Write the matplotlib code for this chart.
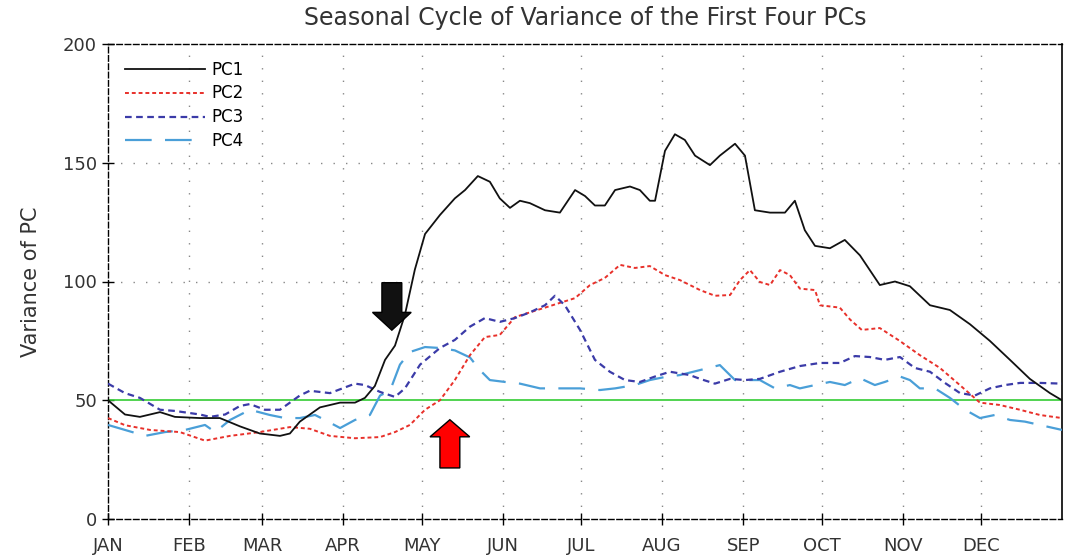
import matplotlib
matplotlib.use("Agg")
import matplotlib.pyplot as plt
from matplotlib.patches import FancyArrow

month_labels = ["JAN", "FEB", "MAR", "APR", "MAY", "JUN", "JUL", "AUG", "SEP", "OCT", "NOV", "DEC"]
month_starts = [0, 31, 59, 90, 120, 151, 181, 212, 243, 273, 304, 334]
y_ticks = [0, 50, 100, 150, 200]

pc1_day = [0, 6.5, 12.2, 19.9, 25.6, 35.2, 42.8, 50.5, 58.1, 65.8, 69.6, 73.4, 81.1, 88.8, 94.5,
           98.3, 102.1, 106, 109.8, 113.6, 117.4, 121.3, 127, 132.7, 136.6, 141.5, 146.1, 149.9,
           153.8, 157.6, 161.4, 167.2, 172.9, 178.7, 182.5, 186.3, 190.1, 194, 199.7, 203.5,
           207.3, 209.3, 213.1, 216.9, 220.7, 224.6, 230.3, 234.1, 239.9, 243.7, 247.5, 253.3,
           259, 262.8, 266.6, 270.5, 276.2, 281.9, 287.7, 295.3, 301.1, 306.8, 314.5, 322.1,
           329.8, 337.4, 345.1, 352.7, 360.4, 365]
pc1_val = [50, 44, 43, 45, 43, 42.5, 42.5, 39, 36, 35, 36, 41, 47, 49, 49,
           51, 56, 67, 73, 86, 105, 120, 128, 135, 138.5, 144.4, 142, 135,
           131, 134, 133, 130, 129, 138.5, 136, 132, 132, 138.5, 140, 138.5,
           134, 134, 155, 162, 159.6, 153, 149, 153, 158, 153, 130, 129,
           129, 134, 121.6, 115, 114, 117.5, 111, 98.5, 100, 98, 90, 88,
           82, 75, 67, 59, 53, 50]

pc2_day = [0, 6.5, 16.1, 27.5, 37.1, 46.7, 58.1, 69.6, 77.2, 84.9, 94.5, 104.1, 109.8, 115.5,
           121.3, 127, 132.7, 138.5, 144.2, 149.9, 155.7, 161.4, 167.2, 172.9, 178.7, 184.4,
           190.1, 195.9, 201.6, 207.3, 213.1, 218.8, 226.5, 232.2, 238, 241.8, 245.6, 249.4,
           253.3, 257.1, 260.9, 264.7, 270.5, 272.4, 280, 283.9, 288.4, 295.3, 302.9, 310.6,
           318.3, 325.9, 333.6, 341.2, 348.9, 356.5, 365]
pc2_val = [42.5, 39.5, 37.5, 36.6, 33, 35, 36.6, 38.7, 38, 35, 34, 34.5, 36.6, 39.6,
           46, 50, 58.5, 69, 76.6, 77.5, 85, 87, 89, 91, 93, 98.5,
           101.5, 107, 105.7, 106.5, 102.7, 100.6, 96.4, 94, 94.3, 100.6, 104.8, 99.8,
           98.5, 104.8, 102.7, 97, 96.4, 90, 89, 84, 79.6, 80.4, 75, 69,
           63.6, 56.4, 49, 48, 46, 43.8, 42.5]

pc3_day = [0, 6.5, 12.2, 19.9, 25.6, 35.2, 39, 44.8, 50.5, 54.3, 60, 65.8, 73.4, 77.2, 84.9,
           94.5, 98.3, 104.1, 109.8, 113.6, 119.4, 127, 132.7, 138.5, 144.2, 149.9, 155.7,
           161.4, 167.2, 171, 174.8, 180.6, 186.3, 192, 197.8, 203.5, 209.3, 215, 222.6,
           226.5, 232.2, 238, 243.7, 249.4, 257.1, 264.7, 272.4, 280, 285.8, 291.5, 297.2,
           303, 308.7, 314.5, 320.2, 326, 331.7, 337.4, 343.2, 349, 356.5, 365]
pc3_val = [57, 53, 51, 46, 45.5, 44, 43, 44, 47.6, 48.4, 46, 46, 52, 54, 53,
           57, 56.4, 53.5, 51.4, 55, 65, 72, 75.4, 81, 84.6, 83, 84.6,
           87, 90, 94, 90, 79.6, 67, 62, 58.5, 57.7, 60, 62, 60.6,
           59, 57, 59, 58.5, 59, 62, 64.4, 65.7, 65.7, 68.6, 68.2, 67,
           68.2, 63.6, 62, 57.3, 53, 52, 55, 56.4, 57.3, 57.3, 57]

pc4_day = [0, 6.5, 14.2, 21.8, 29.5, 37.1, 41, 46.7, 54.3, 61.9, 67.7, 73.4, 79.2, 83, 88.8,
           94.5, 100.2, 104.1, 107.9, 111.7, 115.5, 121.3, 127, 132.7, 138.5, 142.3, 146.1,
           151.9, 157.6, 165.3, 172.9, 180.6, 188.2, 194, 201.6, 207.3, 213.1, 218.8, 226.5,
           234.1, 239.9, 243.7, 249.4, 255.2, 260.9, 264.7, 270.5, 276.2, 281.9, 287.7, 293.4,
           297.2, 303, 306.8, 310.6, 316.4, 322.1, 327.9, 333.6, 339.3, 345.1, 350.8, 356.5, 365]
pc4_val = [39.6, 37.5, 35, 36.6, 37.5, 39.6, 36.6, 41.7, 46, 43.8, 42.5, 42.5, 43.8, 41.7, 38.3,
           41.7, 43.8, 52, 54, 65, 70.3, 72.4, 72, 71, 68, 62.7, 58.5,
           57.7, 57, 55, 55, 55, 54.3, 55, 56.4, 58.5, 59.8, 60.6, 62.7,
           64.8, 58.5, 58.5, 58.5, 55, 56.4, 55, 56.4, 57.7, 56.4, 59.3, 56.4,
           57.7, 60, 58.5, 55, 55, 51, 46, 42.5, 43.8, 41.7, 41, 39.6, 37.5]

fig = plt.figure(figsize=(10.76, 5.58), dpi=100)
ax = fig.add_axes([108 / 1076, 39 / 558, 954 / 1076, 475 / 558])

ax.set_xlim(0, 365)
ax.set_ylim(0, 200)

grid_kw = dict(color="#888888", linewidth=1.0, linestyle=(0, (1, 8)), zorder=1)
for d in month_starts[1:]:
    ax.axvline(d, **grid_kw)
for v in [100, 150]:
    ax.axhline(v, **grid_kw)

ax.axhline(50, color="#33cc33", linewidth=1.2, zorder=2)

ax.plot(pc1_day, pc1_val, color="#111111", linewidth=1.3, label="PC1", zorder=5)
ax.plot(pc2_day, pc2_val, color="#e8302a", linewidth=1.4, linestyle=(0, (2, 1.5)), label="PC2", zorder=4)
ax.plot(pc3_day, pc3_val, color="#3b3ba8", linewidth=1.6, linestyle=(0, (3, 2)), label="PC3", zorder=4)
ax.plot(pc4_day, pc4_val, color="#4a9fd8", linewidth=1.6, linestyle=(0, (12, 6)), label="PC4", zorder=3)

ax.add_patch(FancyArrow(108.6, 99.5, 0, -20, width=7.6, head_width=14.8, head_length=7.5,
                        length_includes_head=True, facecolor="#111111", edgecolor="#000000",
                        linewidth=1.0, zorder=6))
ax.add_patch(FancyArrow(130.8, 21.5, 0, 20.3, width=7.6, head_width=15.2, head_length=7.2,
                        length_includes_head=True, facecolor="#ff0000", edgecolor="#000000",
                        linewidth=1.0, zorder=6))

ax.set_xticks(month_starts)
ax.set_xticklabels(month_labels)
ax.set_yticks(y_ticks)
ax.tick_params(axis="both", direction="inout", length=8, width=1, labelsize=13,
               labelcolor="#333333", pad=4)
ax.tick_params(axis="x", pad=9)

for s in ["top", "bottom", "left"]:
    ax.spines[s].set_linestyle((0, (4, 2)))
    ax.spines[s].set_linewidth(1.0)
ax.spines["right"].set_linewidth(1.2)

ax.set_ylabel("Variance of PC", fontsize=15, color="#333333", labelpad=16)
ax.set_title("Seasonal Cycle of Variance of the First Four PCs", fontsize=17,
             color="#333333", pad=14)

leg = ax.legend(loc="upper left", frameon=False, fontsize=12, handlelength=4.8,
                handletextpad=0.4, labelspacing=0.35, borderaxespad=0.6,
                bbox_to_anchor=(0.0, 1.0))

fig.savefig("out.png", dpi=100)
